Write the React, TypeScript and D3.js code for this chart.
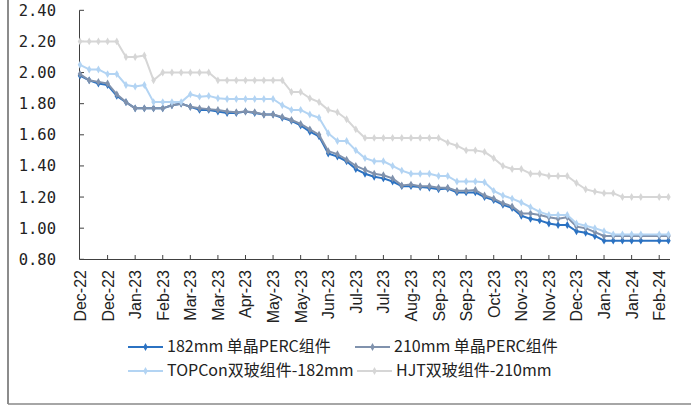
import React from "react";
import * as d3 from "d3";

const dateLabels = ["Dec-22","Dec-22","Jan-23","Feb-23","Mar-23","Mar-23","Apr-23","May-23","May-23","Jun-23","Jul-23","Jul-23","Aug-23","Sep-23","Sep-23","Oct-23","Nov-23","Nov-23","Dec-23","Jan-24","Jan-24","Feb-24"];
const yTicks = [0.8, 1.0, 1.2, 1.4, 1.6, 1.8, 2.0, 2.2, 2.4];

const s182 = [1.98,1.95,1.93,1.92,1.85,1.81,1.77,1.77,1.77,1.77,
  1.79,1.80,1.78,1.76,1.76,1.75,1.74,1.74,1.75,1.74,
  1.73,1.73,1.71,1.69,1.66,1.62,1.59,1.48,1.46,1.43,
  1.38,1.35,1.33,1.32,1.30,1.27,1.27,1.265,1.26,1.25,
  1.255,1.23,1.23,1.23,1.20,1.18,1.15,1.13,1.08,1.06,
  1.05,1.03,1.02,1.02,0.98,0.97,0.95,0.92,0.92,0.92,
  0.92,0.92,null,0.92,0.92];
const s210 = [1.99,1.95,1.94,1.93,1.86,1.81,1.77,1.77,1.77,1.77,
  1.79,1.80,1.78,1.77,1.765,1.76,1.75,1.745,1.75,1.745,
  1.73,1.73,1.715,1.695,1.67,1.635,1.60,1.495,1.475,1.44,
  1.40,1.375,1.35,1.34,1.32,1.275,1.28,1.27,1.27,1.26,
  1.26,1.24,1.24,1.245,1.21,1.19,1.16,1.14,1.095,1.095,
  1.085,1.07,1.06,1.07,1.01,1.00,0.975,0.95,0.95,0.95,
  0.95,0.95,null,0.95,0.95];
const sTOPCon = [2.05,2.02,2.02,1.99,1.99,1.92,1.91,1.92,1.81,1.81,
  1.81,1.81,1.86,1.845,1.85,1.835,1.83,1.83,1.83,1.83,
  1.83,1.83,1.79,1.76,1.76,1.73,1.71,1.61,1.56,1.56,
  1.50,1.45,1.43,1.43,1.40,1.37,1.35,1.35,1.35,1.335,
  1.335,1.30,1.30,1.30,1.295,1.24,1.21,1.19,1.165,1.135,
  1.105,1.085,1.085,1.085,1.03,1.015,1.00,0.98,0.96,0.96,
  0.96,0.96,null,0.96,0.96];
const sHJT = [2.20,2.20,2.20,2.20,2.20,2.10,2.10,2.11,1.95,2.00,
  2.00,2.00,2.00,2.00,2.00,1.95,1.95,1.95,1.95,1.95,
  1.95,1.95,1.95,1.875,1.875,1.835,1.81,1.76,1.745,1.70,
  1.635,1.58,1.58,1.58,1.58,1.58,1.58,1.58,1.58,1.58,
  1.55,1.53,1.50,1.50,1.49,1.45,1.40,1.38,1.38,1.35,
  1.35,1.335,1.335,1.335,1.29,1.25,1.235,1.225,1.225,1.20,
  1.20,1.20,null,1.20,1.20];

const seriesNames = ["182mm 单晶PERC组件", "210mm 单晶PERC组件", "TOPCon双玻组件-182mm", "HJT双玻组件-210mm"];
const seriesValues = [s182, s210, sTOPCon, sHJT];
const seriesColors = ["#2b72c2", "#8092ad", "#b3d4f3", "#d6d6d6"];

export default function App() {
  const W = 691, H = 406;
  const x = d3.scaleLinear().domain([0, 64]).range([80, 668.4]);
  const y = d3.scaleLinear().domain([0.8, 2.4]).range([259.3, 10.3]);
  const line = d3.line<[number, number]>().x(d => x(d[0])).y(d => y(d[1]));
  const diamond = d3.symbol().type(d3.symbolDiamond).size(18)() as string;
  const drawOrder = [0, 1, 2, 3];
  const legendPos = [
    { x: 128, y: 347 }, { x: 355, y: 347 },
    { x: 128, y: 371 }, { x: 357, y: 371 },
  ];
  return (
    <svg width={W} height={H} style={{ position: "absolute", left: 0, top: 0, background: "#fff" }}>
      <line x1={8} y1={0} x2={8} y2={404} stroke="#666" strokeWidth={1.5} />
      <line x1={8} y1={404} x2={W} y2={404} stroke="#888" strokeWidth={1.5} />
      {/* y axis */}
      <line x1={79.5} y1={y(2.4)} x2={79.5} y2={y(0.8)} stroke="#404040" strokeWidth={1} />
      {yTicks.map(t => (
        <g key={t}>
          <line x1={79.5} x2={84} y1={y(t)} y2={y(t)} stroke="#404040" />
          <text x={56} y={y(t) + 1} textAnchor="end" dominantBaseline="middle"
            fontFamily="'DejaVu Sans Mono', 'Liberation Mono', monospace" fontSize={15.5} fill="#222">
            {t.toFixed(2)}
          </text>
        </g>
      ))}
      {/* x axis */}
      <line x1={79.5} y1={259.5} x2={670} y2={259.5} stroke="#404040" strokeWidth={1} />
      {dateLabels.map((lab, k) => {
        const tx = x(k * 3);
        return (
          <g key={k}>
            {k > 0 && <line x1={tx} x2={tx} y1={259.5} y2={255} stroke="#404040" />}
            <text transform={`translate(${tx + 6},270) rotate(-90)`} textAnchor="end"
              fontFamily="'Liberation Sans', Arial" fontSize={16} fill="#222">{lab}</text>
          </g>
        );
      })}
      {/* series */}
      {drawOrder.map(si => {
        const pts: [number, number][] = [];
        seriesValues[si].forEach((v, i) => { if (v != null) pts.push([i, v as number]); });
        return (
          <g key={si}>
            <path d={line(pts) || ""} fill="none" stroke={seriesColors[si]} strokeWidth={2} strokeLinejoin="round" />
            {pts.map(([i, v]) => (
              <path key={i} d={diamond} transform={`translate(${x(i)},${y(v)})`} fill={seriesColors[si]} />
            ))}
          </g>
        );
      })}
      {/* legend */}
      {seriesNames.map((name, si) => {
        const p = legendPos[si];
        return (
          <g key={name}>
            <line x1={p.x} x2={p.x + 35} y1={p.y} y2={p.y} stroke={seriesColors[si]} strokeWidth={2} />
            <path d={diamond} transform={`translate(${p.x + 17.5},${p.y})`} fill={seriesColors[si]} />
            <text x={p.x + 39} y={p.y + 1} dominantBaseline="middle"
              fontFamily="'Noto Sans CJK SC', 'Noto Sans'" fontSize={16} fill="#222">{name}</text>
          </g>
        );
      })}
    </svg>
  );
}
